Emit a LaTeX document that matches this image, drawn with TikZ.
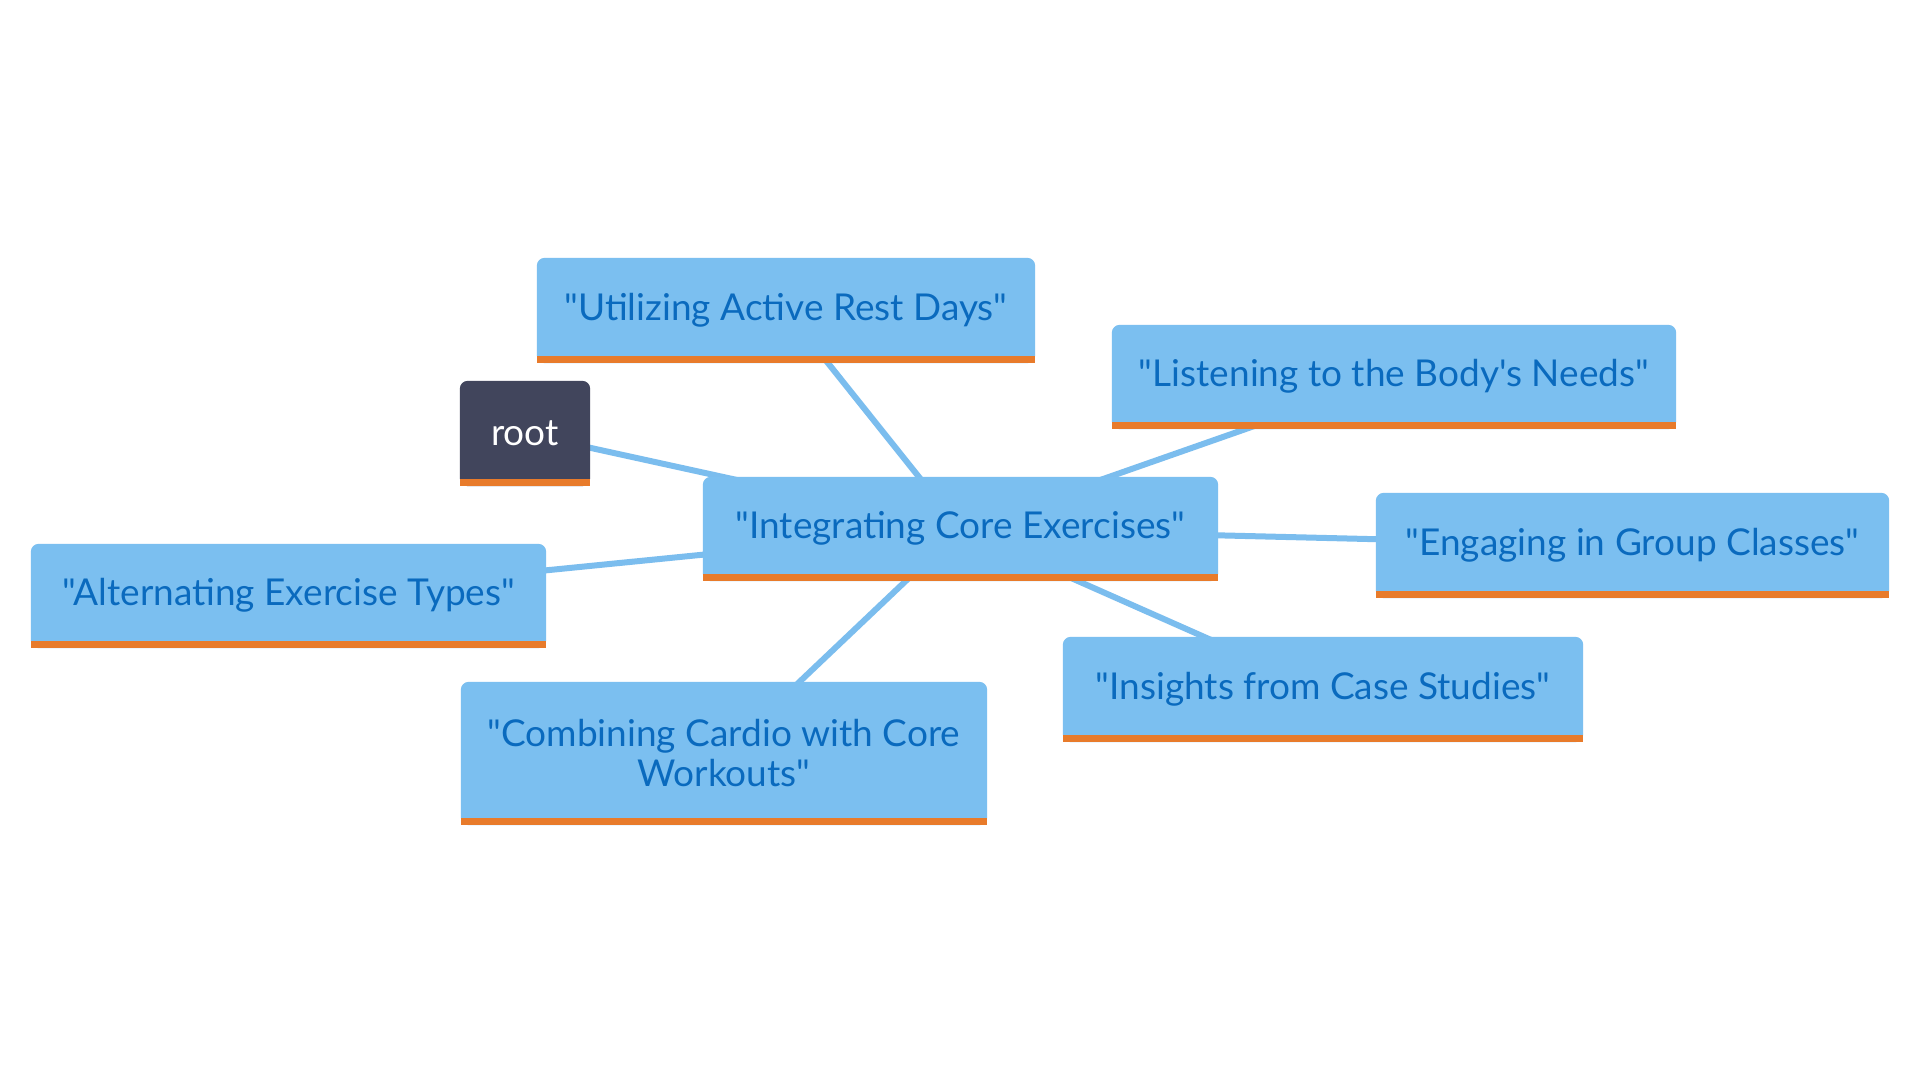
\documentclass[tikz,border=0pt]{standalone}
\usepackage{fontspec}
\setmainfont{Lato}[Ligatures=TeXOff]
\usetikzlibrary{fit}
\pgfdeclarelayer{bglayer}
\pgfdeclarelayer{edgelayer}
\pgfdeclarelayer{filllayer}
\pgfsetlayers{bglayer,edgelayer,filllayer,main}
\definecolor{boxblue}{RGB}{123,191,240}
\definecolor{edgeblue}{RGB}{123,189,238}
\definecolor{textblue}{RGB}{10,106,190}
\definecolor{barorange}{RGB}{232,123,43}
\definecolor{rootfill}{RGB}{65,69,92}
\tikzset{
  boxframe/.style={inner sep=0pt},
  boxtext/.style={text=textblue, font=\fontsize{37}{40}\selectfont, align=center, inner sep=0pt},
  roottext/.style={boxtext, text=white},
  conn/.style={draw=edgeblue, line width=6pt},
}
% #1 fill colour, #2 text style, #3 name, #4 x1, #5 y1, #6 x2, #7 y2, #8 text
\newcommand\mmbox[8]{%
  \node[fit={(#4,#5)(#6,#7)}, boxframe] (#3) {};
  \node[#2] (#3-label) at ([yshift=0.5pt]#3.center) {#8};
  \begin{pgfonlayer}{filllayer}
    \fill[#1, rounded corners=8pt] (#3.south west) rectangle (#3.north east);
    \fill[#1] (#3.south west) rectangle ([yshift=20pt]#3.south east);
    \fill[barorange] (#3.south west) rectangle ([yshift=7pt]#3.south east);
  \end{pgfonlayer}
}
\begin{document}
\begin{tikzpicture}[x=1pt,y=-1pt]
  \begin{pgfonlayer}{bglayer}
    \fill[white] (0,0) rectangle (1920,1080);
  \end{pgfonlayer}
  \useasboundingbox (0,0) rectangle (1920,1080);
  \mmbox{rootfill}{roottext}{root}{460}{381}{590}{486}{root}
  \mmbox{boxblue}{boxtext}{util}{537}{258}{1035}{363}{"Utilizing Active Rest Days"}
  \mmbox{boxblue}{boxtext}{listen}{1112}{325}{1676}{429}{"Listening to the Body's Needs"}
  \mmbox{boxblue}{boxtext}{integ}{703}{477}{1218}{581}{"Integrating Core Exercises"}
  \mmbox{boxblue}{boxtext}{engage}{1376}{493}{1889}{598}{"Engaging in Group Classes"}
  \mmbox{boxblue}{boxtext}{alt}{31}{544}{546}{648}{"Alternating Exercise Types"}
  \mmbox{boxblue}{boxtext}{insight}{1063}{637}{1583}{742}{"Insights from Case Studies"}
  \mmbox{boxblue}{boxtext}{comb}{461}{682}{987}{825}{"Combining Cardio with Core\\Workouts"}
  \begin{pgfonlayer}{edgelayer}
    \draw[conn] (integ.center) -- (root.center);
    \draw[conn] (integ.center) -- (util.center);
    \draw[conn] (integ.center) -- (listen.center);
    \draw[conn] (integ.center) -- (engage.center);
    \draw[conn] (integ.center) -- (alt.center);
    \draw[conn] (integ.center) -- (insight.center);
    \draw[conn] (integ.center) -- (comb.center);
  \end{pgfonlayer}
\end{tikzpicture}
\end{document}
